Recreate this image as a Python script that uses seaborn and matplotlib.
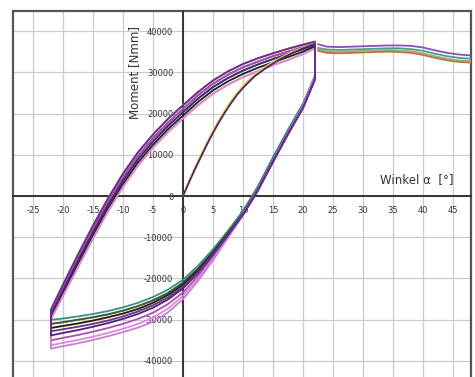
import matplotlib
matplotlib.use('Agg')
import matplotlib.pyplot as plt
import seaborn as sns
from matplotlib.patches import Rectangle
from matplotlib.ticker import MultipleLocator

# x positions shared by all loop branches (degrees)
branch_x = [-22, -20, -17.5, -15, -12.5, -10, -7.5, -5, -2.5, 0, 2.5, 5, 7.5, 10, 12.5, 15, 17.5, 20, 22]

# upper branches (unloading +22 -> -22), moment in Nmm
upper_a = [-27500, -21500, -14200, -7200, -600, 5400, 10600, 14900, 18700, 22000, 25200, 28000, 30200, 32000, 33400, 34600, 35700, 36700, 37400]
upper_b = [-28200, -22300, -15000, -8000, -1400, 4500, 9700, 14000, 17800, 21100, 24400, 27200, 29400, 31200, 32600, 33900, 35000, 36100, 37000]
upper_c = [-28800, -22900, -15700, -8800, -2200, 3700, 8900, 13200, 17000, 20300, 23600, 26400, 28600, 30400, 31900, 33200, 34400, 35600, 36700]
upper_d = [-29300, -23600, -16500, -9600, -3000, 2900, 8100, 12400, 16200, 19500, 22800, 25600, 27800, 29600, 31100, 32400, 33700, 35000, 36300]
upper_e = [-29800, -24200, -17200, -10300, -3700, 2200, 7400, 11700, 15500, 18800, 22000, 24800, 27000, 28800, 30300, 31700, 33000, 34400, 35800]

# lower branches (loading -22 -> +22)
lower_1 = [-30000, -29700, -29200, -28600, -27900, -27000, -25900, -24500, -22700, -20300, -16900, -12900, -8400, -3600, 2400, 9400, 16100, 22400, 29300]
lower_2 = [-31000, -30600, -30000, -29400, -28700, -27800, -26700, -25300, -23500, -21000, -17600, -13500, -8900, -4100, 1900, 8900, 15600, 21900, 28800]
lower_3 = [-32000, -31500, -30900, -30200, -29400, -28500, -27400, -25900, -24000, -21500, -18000, -13800, -9200, -4400, 1500, 8400, 15100, 21500, 28400]
lower_4 = [-32800, -32300, -31700, -31000, -30200, -29200, -28000, -26500, -24600, -22000, -18400, -14100, -9400, -4600, 1300, 8200, 14900, 21300, 28200]
lower_5 = [-33800, -33200, -32500, -31700, -30800, -29800, -28600, -27100, -25100, -22400, -18700, -14300, -9500, -4500, 1500, 8400, 15100, 21400, 28400]
lower_6 = [-35000, -34400, -33700, -32900, -32000, -31000, -29800, -28300, -26200, -23400, -19400, -14700, -9600, -4300, 1700, 8600, 15300, 21600, 28700]
lower_7 = [-36200, -35600, -34900, -34100, -33200, -32200, -31000, -29500, -27300, -24200, -20000, -15200, -9900, -4500, 1600, 8500, 15300, 21700, 29000]
lower_8 = [-37000, -36400, -35700, -34900, -34000, -33000, -31900, -30500, -28200, -25000, -20600, -15600, -10100, -4600, 1600, 8600, 15400, 21800, 29200]

# first loading from the origin
init_x = [0, 1, 2, 3, 4, 5, 6, 7, 8, 9, 10, 11, 12, 14, 16, 18, 20, 22]
init_y_a = [0, 3600, 7000, 10000, 13000, 15800, 18400, 20800, 23000, 25000, 26700, 28200, 29500, 31600, 33300, 34800, 36000, 37000]
init_y_b = [0, 3300, 6500, 9500, 12500, 15300, 17900, 20300, 22500, 24500, 26200, 27700, 29100, 31200, 33000, 34500, 35800, 36900]

# last loading beyond +22
final_x = [22.5, 24, 26, 28, 30, 32, 34, 36, 38, 40, 42, 44, 46, 48.5]
final_a = [36800, 36200, 36100, 36200, 36300, 36400, 36500, 36500, 36400, 36000, 35300, 34700, 34300, 34000]
final_b = [35900, 35500, 35400, 35500, 35600, 35700, 35800, 35800, 35600, 35200, 34500, 33900, 33500, 33200]
final_c = [35500, 35100, 35000, 35100, 35200, 35300, 35400, 35300, 35100, 34600, 33900, 33300, 32900, 32700]
final_d = [35200, 34700, 34600, 34700, 34800, 34900, 35000, 34900, 34700, 34200, 33500, 32900, 32500, 32300]

x_ticks = [-25, -20, -15, -10, -5, 0, 5, 10, 15, 20, 25, 30, 35, 40, 45]
y_ticks = [-40000, -30000, -20000, -10000, 0, 10000, 20000, 30000, 40000]

cycles = [
    (upper_a, lower_3, '#e6d44a'),
    (upper_e, lower_2, '#e08a3c'),
    (upper_c, lower_1, '#3b8f8a'),
    (upper_b, lower_2, '#2e5e3e'),
    (upper_d, lower_3, '#1f1f1f'),
    (upper_b, lower_6, '#b04cb0'),
    (upper_e, lower_7, '#d98ad9'),
    (upper_a, lower_8, '#c77fd6'),
    (upper_c, lower_5, '#4a2470'),
    (upper_a, lower_4, '#6b2d8f'),
]

sns.set_style('white')
fig = plt.figure(figsize=(4.75, 3.77), dpi=100)
ax = fig.add_axes([13 / 475, 0, 458 / 475, 366 / 377])

for up, lo, col in cycles:
    px = branch_x[::-1] + branch_x + [branch_x[-1]]
    py = up[::-1] + lo + [up[-1]]
    sns.lineplot(x=px, y=py, sort=False, estimator=None, color=col, linewidth=1.3, ax=ax)

sns.lineplot(x=init_x, y=init_y_a, sort=False, estimator=None, color='#e6d44a', linewidth=1.3, ax=ax)
sns.lineplot(x=init_x, y=init_y_b, sort=False, estimator=None, color='#4a2470', linewidth=1.3, ax=ax)

for fy, col in [(final_a, '#8a4fb0'), (final_b, '#4f9a8f'), (final_c, '#8fb48a'), (final_d, '#c0703a')]:
    sns.lineplot(x=final_x, y=fy, sort=False, estimator=None, color=col, linewidth=1.3, ax=ax)

ax.set_xlim(-28.33, 48.0)
ax.set_ylim(-43880, 44850)

# axes through the origin
for side in ['top', 'right']:
    ax.spines[side].set_visible(False)
ax.spines['left'].set_position(('data', 0))
ax.spines['bottom'].set_position(('data', 0))
for side in ['left', 'bottom']:
    ax.spines[side].set_color('#333333')
    ax.spines[side].set_linewidth(1.4)
    ax.spines[side].set_zorder(1)

ax.set_xticks(x_ticks)
ax.set_yticks(y_ticks)
ax.set_xticklabels([str(v) for v in x_ticks])
ax.set_yticklabels([str(v) for v in y_ticks])
ax.xaxis.set_minor_locator(MultipleLocator(2.5))
ax.yaxis.set_minor_locator(MultipleLocator(5000))
ax.tick_params(which='major', direction='inout', length=8, width=1.2, color='#333333',
               labelsize=6, labelcolor='#333333', pad=3)
ax.tick_params(which='minor', direction='inout', length=4, width=1.0, color='#333333')

ax.grid(True, which='major', color='#cccccc', linewidth=0.9)
ax.set_axisbelow(True)

ax.add_patch(Rectangle((0, -0.05), 1, 1.05, transform=ax.transAxes, fill=False,
                       edgecolor='#555555', linewidth=1.6, clip_on=False))

ax.text(-8, 30000, 'Moment [Nmm]', rotation=90, ha='center', va='center',
        fontsize=8.5, color='#333333')
ax.text(39, 3900, 'Winkel α  [°]', ha='center', va='center', fontsize=8.5, color='#333333')

fig.savefig('out.png', dpi=100)
